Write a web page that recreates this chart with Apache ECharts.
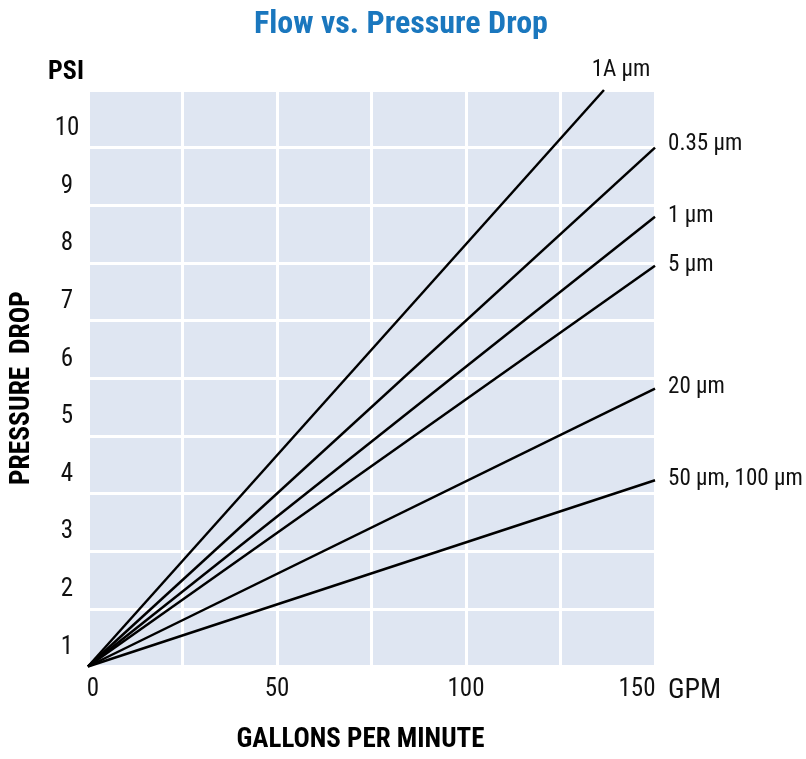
<!DOCTYPE html>
<html>
<head>
<meta charset="utf-8">
<script src="https://cdn.jsdelivr.net/npm/echarts@6/dist/echarts.min.js"></script>
<style>
html,body{margin:0;padding:0;background:#fff;}
#chart{width:806px;height:759px;}
</style>
</head>
<body>
<div id="chart"></div>
<script>
// ---- data ----
var seriesNames = ['1A µm', '0.35 µm', '1 µm', '5 µm', '20 µm', '50 µm, 100 µm'];
var startPoint = [0, 1];                 // GPM, PSI (all lines share the origin)
var endFlow   = [136.5, 150, 150, 150, 150, 150];   // GPM
var endPsi    = [11, 10.0, 8.8, 7.95, 5.82, 4.23];   // PSI
var xTickLabels = [0, 50, 100, 150];
var yTickLabels = [1, 2, 3, 4, 5, 6, 7, 8, 9, 10];

var FONT = '"Liberation Sans Narrow", "Roboto Condensed", "DejaVu Sans Condensed", Roboto, sans-serif';

var chart = echarts.init(document.getElementById('chart'), null, {renderer: 'canvas'});

var series = seriesNames.map(function (name, i) {
  var isTop = (i === 0);
  return {
    type: 'line',
    name: name,
    symbol: 'circle',
    symbolSize: 0.1,
    showSymbol: true,
    silent: true,
    itemStyle: {color: '#000'},
    lineStyle: {color: '#000', width: 2.5},
    label: {show: false},
    data: [
      startPoint.slice(),
      {
        value: [endFlow[i], endPsi[i]],
        label: {
          show: true,
          formatter: name,
          position: isTop ? 'top' : 'right',
          distance: isTop ? 8 : 13,
          offset: isTop ? [17, 0] : [0, (i === 1 ? -3 : -1)],
          fontFamily: FONT,
          fontSize: 23,
          color: '#111'
        }
      }
    ]
  };
});

var option = {
  backgroundColor: '#ffffff',
  animation: false,
  title: {
    text: 'Flow vs. Pressure Drop',
    left: 396,
    textAlign: 'center',
    top: 4,
    textStyle: {fontFamily: FONT, fontSize: 32, fontWeight: 'bold', color: '#1a77be'}
  },
  grid: {
    left: 88, right: 151, top: 90, bottom: 88,
    show: true, backgroundColor: '#dfe6f2', borderWidth: 0
  },
  graphic: [{
    type: 'text',
    left: 8,
    top: 291,
    rotation: Math.PI / 2,
    style: {
      text: 'PRESSURE  DROP',
      fontFamily: FONT, fontSize: 27.5, fontWeight: 'bold', fill: '#000'
    }
  }],
  xAxis: [{
    type: 'value',
    min: 0, max: 150, interval: 25,
    name: 'GPM',
    nameLocation: 'end',
    nameGap: 13,
    nameTextStyle: {fontFamily: FONT, fontSize: 28, color: '#111', verticalAlign: 'top', align: 'left', padding: [10, 0, 0, 0]},
    axisLine: {show: false},
    axisTick: {show: false},
    splitLine: {show: true, lineStyle: {color: '#ffffff', width: 3}},
    axisLabel: {
      margin: 11,
      fontFamily: FONT, fontSize: 25, color: '#111',
      formatter: function (v) {
        if (xTickLabels.indexOf(v) < 0) return '';
        if (v === 150) return '{r|' + v + '}';
        if (v === 0) return '{z|0}';
        return String(v);
      },
      rich: {
        r: {fontFamily: FONT, fontSize: 25, color: '#111', padding: [0, 36, 0, 0]},
        z: {fontFamily: FONT, fontSize: 25, color: '#111', padding: [0, 0, 0, 10]}
      }
    }
  }, {
    type: 'value', min: 0, max: 150, position: 'bottom', show: true,
    name: 'GALLONS PER MINUTE', nameLocation: 'middle', nameGap: 74,
    nameTextStyle: {fontFamily: FONT, fontSize: 27, fontWeight: 'bold', color: '#000', verticalAlign: 'middle', padding: [0, 22, 0, 0]},
    axisLine: {show: false}, axisTick: {show: false}, axisLabel: {show: false}, splitLine: {show: false}
  }],
  yAxis: {
    type: 'value',
    min: 1, max: 11, interval: 1,
    name: 'PSI',
    nameLocation: 'end',
    nameGap: 5,
    nameTextStyle: {fontFamily: FONT, fontSize: 26, fontWeight: 'bold', color: '#000', align: 'center', verticalAlign: 'bottom', padding: [0, 44, 0, 0]},
    axisLine: {show: false},
    axisTick: {show: false},
    splitLine: {show: true, lineStyle: {color: '#ffffff', width: 3}},
    axisLabel: {
      margin: 21,
      align: 'center',
      verticalAlign: 'bottom',
      lineHeight: 38,
      fontFamily: FONT, fontSize: 25, color: '#111',
      formatter: function (v) {
        return yTickLabels.indexOf(v) >= 0 ? String(v) : '';
      }
    }
  },
  series: series
};

chart.setOption(option);
</script>
</body>
</html>
